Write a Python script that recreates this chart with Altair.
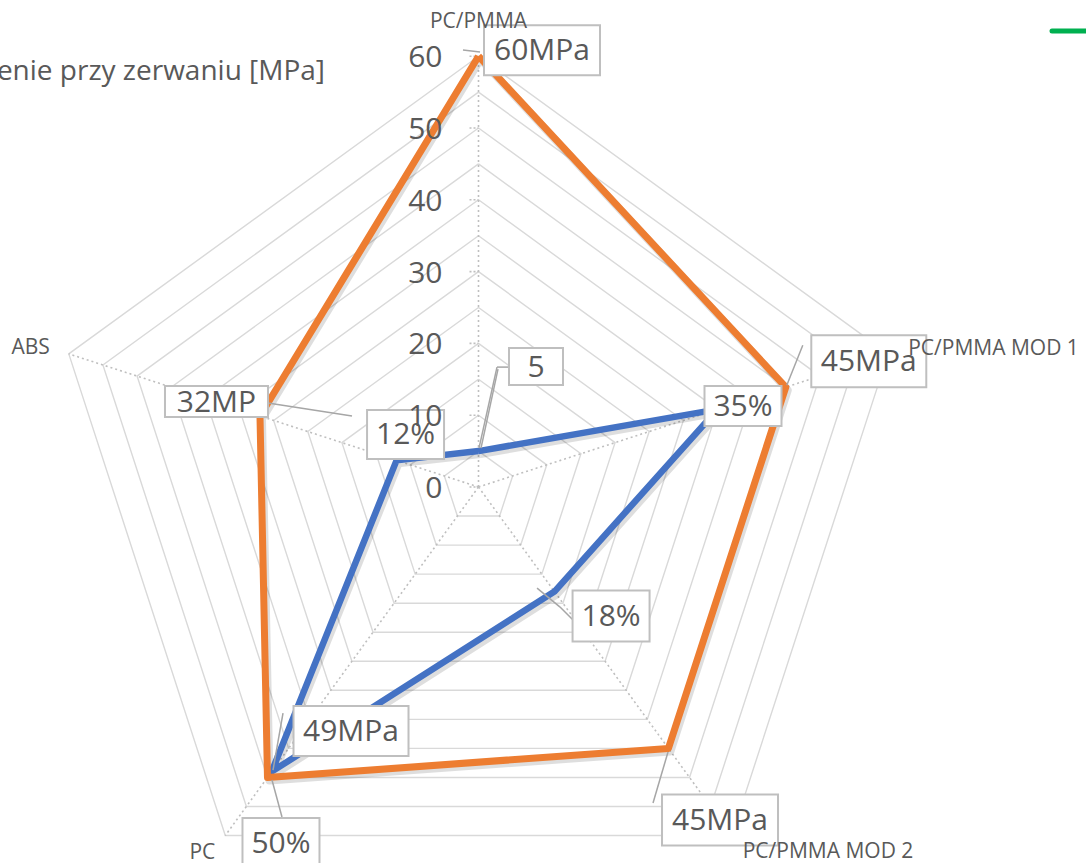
import math
import altair as alt
import pandas as pd

# ---------------- data ----------------
categories = ["PC/PMMA", "PC/PMMA MOD 1", "PC/PMMA MOD 2", "PC", "ABS"]
orange_values = [60, 45, 45, 50, 32]
blue_values = [5, 35, 18, 49, 12]
orange_labels = ["60MPa", "45MPa", "45MPa", "50%", "32MP"]
blue_labels = ["5", "35%", "18%", "49MPa", "12%"]
tick_values = [0, 10, 20, 30, 40, 50, 60]
tick_texts = ["0", "10", "20", "30", "40", "50", "60"]
grid_values = [5, 10, 15, 20, 25, 30, 35, 40, 45, 50, 55, 60]
axis_max = 60
title_text = "Naprężenie przy zerwaniu [MPa]"

# ---------------- layout / style ----------------
W, H = 1086, 863
CX, CY = 478.5, 487.0      # pixel centre of the radar
K = 7.18                   # pixels per unit
FONT = "Open Sans"
TXT = "#595959"
ORANGE = "#ED7D31"
BLUE = "#4472C4"
GRID = "#d9d9d9"

xs = alt.Scale(domain=[-CX / K, (W - CX) / K], nice=False, zero=False)
ys = alt.Scale(domain=[-(H - CY) / K, CY / K], nice=False, zero=False)


def pt(r, i):
    a = math.radians(90 - 72 * i)
    return r * math.cos(a), r * math.sin(a)


def X(f="x"):
    return alt.X(f"{f}:Q", scale=xs, axis=None)


def Y(f="y"):
    return alt.Y(f"{f}:Q", scale=ys, axis=None)


layers = []

# grid rings
rows = []
for r in grid_values:
    for j in range(6):
        x, y = pt(r, j % 5)
        rows.append({"ring": r, "ord": j, "x": x, "y": y})
grid_df = pd.DataFrame(rows)
layers.append(
    alt.Chart(grid_df).mark_line(color=GRID, strokeWidth=1.4).encode(
        x=X(), y=Y(), detail="ring:N", order="ord:Q"
    )
)

# spokes (dotted)
rows = []
for i, c in enumerate(categories):
    x2, y2 = pt(axis_max, i)
    rows.append({"cat": c, "x": 0.0, "y": 0.0, "x2": x2, "y2": y2})
spoke_df = pd.DataFrame(rows)
layers.append(
    alt.Chart(spoke_df).mark_rule(color="#bfbfbf", strokeWidth=1.6, strokeDash=[2, 3]).encode(
        x=X(), y=Y(), x2="x2:Q", y2="y2:Q"
    )
)

# small tick marks on the value axis
tick_df = pd.DataFrame({"x": [0.0] * len(tick_values), "y": [float(v) for v in tick_values], "t": tick_texts})
layers.append(
    alt.Chart(tick_df).mark_rule(color="#bfbfbf", strokeWidth=1.6, strokeDash=[2, 2],
                                 xOffset=-9, x2Offset=0).encode(
        x=X(), y=Y(), x2="x:Q", y2="y:Q"
    )
)


def series_df(values, name):
    rows = []
    for j in range(6):
        i = j % 5
        x, y = pt(values[i], i)
        rows.append({"s": name, "ord": j, "x": x, "y": y})
    return pd.DataFrame(rows)


blue_df = series_df(blue_values, "blue")
orange_df = series_df(orange_values, "orange")

for df in (blue_df, orange_df):
    layers.append(
        alt.Chart(df).mark_line(color="#000000", opacity=0.13, strokeWidth=8,
                                strokeJoin="round", xOffset=2, yOffset=3).encode(
            x=X(), y=Y(), order="ord:Q"
        )
    )
layers.append(
    alt.Chart(blue_df).mark_line(color=BLUE, strokeWidth=6.5, strokeJoin="round").encode(
        x=X(), y=Y(), order="ord:Q"
    )
)
layers.append(
    alt.Chart(orange_df).mark_line(color=ORANGE, strokeWidth=7, strokeJoin="round").encode(
        x=X(), y=Y(), order="ord:Q"
    )
)

# data labels: (series, index, box offset x, box offset y, box w, box h, leader segments)
label_layout = [
    ("orange", 0, 63.5, -6, 116, 50, [(-15.5, -6.2, 1.5, -4.2)]),
    ("orange", 1, 83, -26, 115, 52, [(1, -2, 17, -42)]),
    ("orange", 2, 51.6, 71.6, 116, 51, [(-0.4, 3.6, -15.4, 54.6)]),
    ("orange", 3, 13.5, 65.6, 77, 50, [(4.5, 2.6, 14.5, 39.6)]),
    ("orange", 4, -43.5, -14.5, 103, 31, [(8, -13, 92, 0)]),
    ("blue", 0, 57.5, -84.6, 54, 37, [(0.5, -3, 18.5, -84), (18.5, -84, 30.5, -84),
                                      (2.5, -3, 19.5, -82)]),
    ("blue", 1, 25.5, -3.3, 77, 40, []),
    ("blue", 2, 56.6, 24.5, 77, 51, [(-17.4, -3.5, 5.6, 15.5), (5.6, 15.5, 20.6, 30.5)]),
    ("blue", 3, 79.3, -40.6, 115, 50, [(1.3, -1.6, 11.3, -58.6)]),
    ("blue", 4, 9, -26, 77, 49, []),
]

leader_layers, box_layers, text_layers = [], [], []
for s, i, ox, oy, bw, bh, leaders in label_layout:
    vals = orange_values if s == "orange" else blue_values
    texts = orange_labels if s == "orange" else blue_labels
    x, y = pt(vals[i], i)
    d = pd.DataFrame({"x": [x], "y": [y], "t": [texts[i]]})
    for (a1, b1, a2, b2) in leaders:
        leader_layers.append(
            alt.Chart(d).mark_rule(color="#a6a6a6", strokeWidth=1.5,
                                   xOffset=a1, yOffset=b1, x2Offset=a2, y2Offset=b2).encode(
                x=X(), y=Y(), x2="x:Q", y2="y:Q"
            )
        )
    box_layers.append(
        alt.Chart(d).mark_rect(fill="white", stroke="#bfbfbf", strokeWidth=2,
                               xOffset=ox - bw / 2, x2Offset=ox + bw / 2,
                               yOffset=oy - bh / 2, y2Offset=oy + bh / 2).encode(
            x=X(), y=Y(), x2="x:Q", y2="y:Q"
        )
    )
    text_layers.append(
        alt.Chart(d).mark_text(font=FONT, fontSize=30, color=TXT, align="center",
                               baseline="middle", dx=ox, dy=oy + 1).encode(
            x=X(), y=Y(), text="t:N"
        )
    )

layers += leader_layers + box_layers + text_layers

# value-axis labels (drawn over the label boxes, as in the reference)
layers.append(
    alt.Chart(tick_df).mark_text(font=FONT, fontSize=30, color=TXT, align="right",
                                 baseline="middle", dx=-36, dy=2).encode(
        x=X(), y=Y(), text="t:N"
    )
)

# category labels (anchored at the end of each spoke)
cat_layout = [
    (0, -34, "center"),
    (20, -5, "left"),
    (11, 16, "left"),
    (-10, 17, "right"),
    (-19, -6, "right"),
]
for i, c in enumerate(categories):
    x, y = pt(axis_max, i)
    dx, dy, al = cat_layout[i]
    d = pd.DataFrame({"x": [x], "y": [y], "t": [c]})
    layers.append(
        alt.Chart(d).mark_text(font=FONT, fontSize=21, color=TXT, align=al,
                               baseline="middle", dx=dx, dy=dy).encode(
            x=X(), y=Y(), text="t:N"
        )
    )

# title (its left part is cut off by the picture edge)
title_df = pd.DataFrame({"t": [title_text]})
layers.append(
    alt.Chart(title_df).mark_text(font=FONT, fontSize=28, color=TXT, align="right",
                                  baseline="alphabetic").encode(
        x=alt.value(325), y=alt.value(80), text="t:N"
    )
)

# legend entry (only its symbol is visible at the right edge)
layers.append(
    alt.Chart(title_df).mark_rule(color="#00B050", strokeWidth=5, strokeCap="round").encode(
        x=alt.value(1052), x2=alt.value(1095), y=alt.value(31)
    )
)

chart = alt.layer(*layers).properties(
    width=W, height=H,
    autosize=alt.AutoSizeParams(type="none"),
    padding=0,
    background="white",
).configure_view(stroke=None)

chart.save("out.html", embed_options={"renderer": "svg", "actions": False})
